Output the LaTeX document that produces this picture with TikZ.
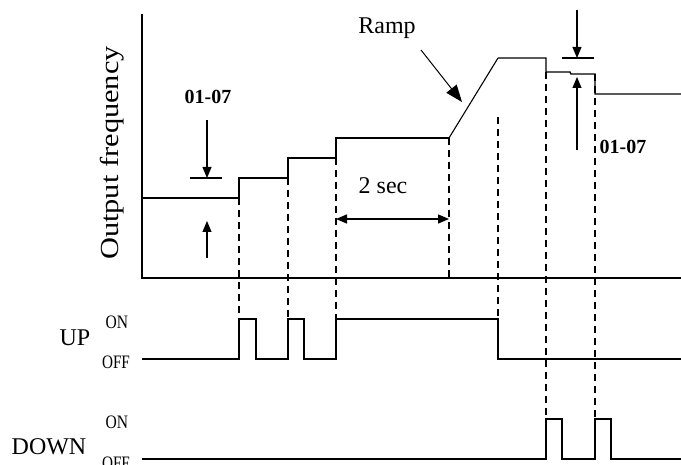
\documentclass[tikz,border=0pt]{standalone}
\usepackage{fontspec}
\setmainfont{Liberation Serif}
\usetikzlibrary{arrows.meta}
\begin{document}
\begin{tikzpicture}[x=1pt,y=-1pt,
  sig/.style={line width=1.4pt, line join=miter},
  guide/.style={line width=1.1pt, dash pattern=on 7pt off 5pt},
  tickline/.style={line width=1.3pt},
  dim/.style={line width=1.1pt, -{Triangle[length=11pt,width=9pt]}},
  dimboth/.style={line width=1.3pt, {Triangle[length=11pt,width=9pt]}-{Triangle[length=11pt,width=9pt]}},
  bigarrow/.style={line width=1pt, -{Triangle[length=17pt,width=13pt]}},
  lbl/.style={inner sep=0pt, font=\fontsize{24}{28}\selectfont},
  num/.style={inner sep=0pt, font=\fontsize{20}{24}\selectfont\bfseries},
  small/.style={inner sep=0pt, font=\fontsize{19}{22}\selectfont}
]
\useasboundingbox (0,0) rectangle (681,465);

% axes
\coordinate (ytop) at (142,14);
\coordinate (org) at (142,278);
\coordinate (xend) at (681,278);
\draw[sig] (ytop) -- (org) -- (xend);

% output frequency trace
\draw[sig] (142,198) -- (239,198) -- (239,178) -- (288,178) -- (288,158)
  -- (336,158) -- (336,138) -- (449,138);
\draw[line width=1.1pt] (449,138) -- (498,58);
\draw[sig] (498,58) -- (546,58) -- (546,72) -- (570,72) -- (571,74)
  -- (595,74) -- (595,94) -- (681,94);

% UP signal
\draw[sig] (142,359) -- (239,359) -- (239,319) -- (256,319) -- (256,359)
  -- (288,359) -- (288,319) -- (304,319) -- (304,359) -- (336,359)
  -- (336,319) -- (498,319) -- (498,359) -- (681,359);

% DOWN signal
\draw[sig] (142,459) -- (546,459) -- (546,419) -- (562,419) -- (562,459)
  -- (595,459) -- (595,419) -- (611,419) -- (611,459) -- (681,459);

% dashed guides
\draw[guide] (239,198) -- (239,319);
\draw[guide] (288,178) -- (288,319);
\draw[guide] (336,158) -- (336,319);
\draw[guide] (449,138) -- (449,278);
\draw[guide] (498,117) -- (498,319);
\draw[guide] (546,72) -- (546,419);
\draw[guide] (595,74) -- (595,419);

% left 01-07 dimension
\coordinate (la1) at (207,120);
\coordinate (la2) at (207,178);
\coordinate (lt1) at (190,178);
\coordinate (lt2) at (222,178);
\coordinate (lb1) at (207,258);
\coordinate (lb2) at (207,221);
\draw[dim] (la1) -- (la2);
\draw[tickline] (lt1) -- (lt2);
\draw[dim] (lb1) -- (lb2);
\node[num] (lnum) at (208,97) {01-07};

% 2 sec
\coordinate (s1) at (336,219);
\coordinate (s2) at (449,219);
\draw[dimboth] (s1) -- (s2);
\node[lbl] (twosec) at (383,186) {2 sec};

% Ramp
\node[lbl] (ramp) at (387,28) {Ramp};
\coordinate (r1) at (421,50);
\coordinate (r2) at (462,102);
\draw[bigarrow] (r1) -- (r2);

% right 01-07 dimension
\coordinate (ra1) at (577,10);
\coordinate (ra2) at (577,58);
\coordinate (rt1) at (562,58);
\coordinate (rt2) at (594,58);
\coordinate (rb1) at (577,150);
\coordinate (rb2) at (577,77);
\draw[dim] (ra1) -- (ra2);
\draw[tickline] (rt1) -- (rt2);
\draw[dim] (rb1) -- (rb2);
\node[num] (rnum) at (623,147) {01-07};

% axis label
\node[inner sep=0pt, rotate=90, font=\fontsize{26}{30}\selectfont] (ylab) at (112,153)
  {\scalebox{1.17}[1]{Output frequency}};

% signal labels
\node[lbl] (up) at (75,338) {UP};
\node[small] (upon) at (117,322) {\scalebox{0.82}[1]{ON}};
\node[small] (upoff) at (116,362) {\scalebox{0.8}[1]{OFF}};
\node[lbl] (down) at (49,447) {DOWN};
\node[small] (dnon) at (117,422) {\scalebox{0.82}[1]{ON}};
\node[small] (dnoff) at (116,463) {\scalebox{0.8}[1]{OFF}};
\end{tikzpicture}
\end{document}
